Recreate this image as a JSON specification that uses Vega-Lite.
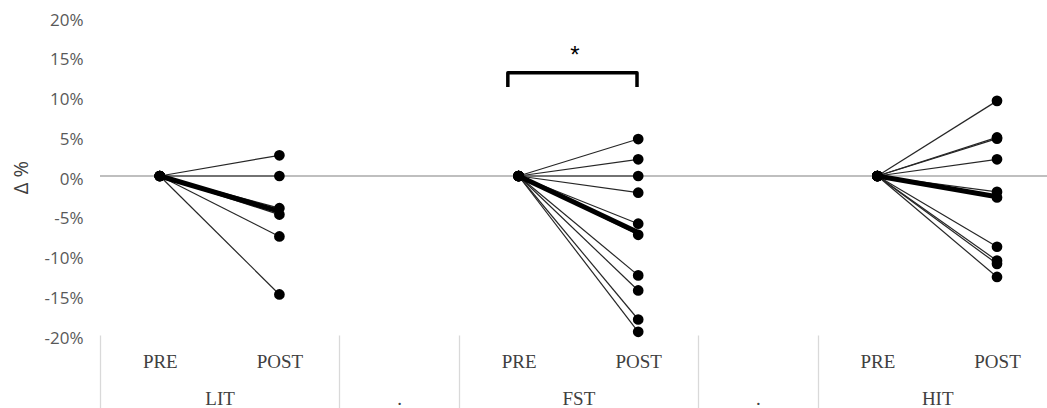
{
  "$schema": "https://vega.github.io/schema/vega-lite/v6.json",
  "width": 947,
  "height": 318,
  "autosize": {"type": "none"},
  "padding": {"left": 100, "top": 17, "right": 0, "bottom": 73},
  "background": "white",
  "config": {"view": {"stroke": null}, "font": "Open Sans"},
  "datasets": {
    "subjects": [
      {"g": "LIT", "s": "L1", "kind": "ind", "PRE": 0, "POST": 2.6},
      {"g": "LIT", "s": "L2", "kind": "ind", "PRE": 0, "POST": 0},
      {"g": "LIT", "s": "L3", "kind": "ind", "PRE": 0, "POST": -4.05},
      {"g": "LIT", "s": "L4", "kind": "ind", "PRE": 0, "POST": -4.85},
      {"g": "LIT", "s": "L5", "kind": "ind", "PRE": 0, "POST": -7.6},
      {"g": "LIT", "s": "L6", "kind": "ind", "PRE": 0, "POST": -14.9},
      {"g": "LIT", "s": "Lm", "kind": "mean", "PRE": 0, "POST": -4.45},
      {"g": "FST", "s": "F1", "kind": "ind", "PRE": 0, "POST": 4.65},
      {"g": "FST", "s": "F2", "kind": "ind", "PRE": 0, "POST": 2.1},
      {"g": "FST", "s": "F3", "kind": "ind", "PRE": 0, "POST": 0},
      {"g": "FST", "s": "F4", "kind": "ind", "PRE": 0, "POST": -2.1},
      {"g": "FST", "s": "F5", "kind": "ind", "PRE": 0, "POST": -6.0},
      {"g": "FST", "s": "F6", "kind": "ind", "PRE": 0, "POST": -7.4},
      {"g": "FST", "s": "F7", "kind": "ind", "PRE": 0, "POST": -12.5},
      {"g": "FST", "s": "F8", "kind": "ind", "PRE": 0, "POST": -14.4},
      {"g": "FST", "s": "F9", "kind": "ind", "PRE": 0, "POST": -18.05},
      {"g": "FST", "s": "F10", "kind": "ind", "PRE": 0, "POST": -19.6},
      {"g": "FST", "s": "Fm", "kind": "mean", "PRE": 0, "POST": -7.1},
      {"g": "HIT", "s": "H1", "kind": "ind", "PRE": 0, "POST": 9.45},
      {"g": "HIT", "s": "H2", "kind": "ind", "PRE": 0, "POST": 4.7},
      {"g": "HIT", "s": "H3", "kind": "ind", "PRE": 0, "POST": 4.85},
      {"g": "HIT", "s": "H4", "kind": "ind", "PRE": 0, "POST": 2.1},
      {"g": "HIT", "s": "H5", "kind": "ind", "PRE": 0, "POST": -2.0},
      {"g": "HIT", "s": "H6", "kind": "ind", "PRE": 0, "POST": -2.7},
      {"g": "HIT", "s": "H7", "kind": "ind", "PRE": 0, "POST": -8.9},
      {"g": "HIT", "s": "H8", "kind": "ind", "PRE": 0, "POST": -10.65},
      {"g": "HIT", "s": "H9", "kind": "ind", "PRE": 0, "POST": -11.05},
      {"g": "HIT", "s": "H10", "kind": "ind", "PRE": 0, "POST": -12.7},
      {"g": "HIT", "s": "Hm", "kind": "mean", "PRE": 0, "POST": -2.6}
    ],
    "bracket": [
      {"o": 1, "bx": 2.91, "by": 11.2},
      {"o": 2, "bx": 2.91, "by": 13.0},
      {"o": 3, "bx": 3.99, "by": 13.0},
      {"o": 4, "bx": 3.99, "by": 11.2}
    ],
    "sig": [
      {"sx": 3.47, "sy": 15.6, "label": "*"}
    ]
  },
  "data": {"name": "subjects"},
  "transform": [
    {"fold": ["PRE", "POST"], "as": ["t", "v"]},
    {"calculate": "(datum.g=='LIT'?0:datum.g=='FST'?3:6)+(datum.t=='POST'?1:0)", "as": "slot"}
  ],
  "resolve": {"axis": {"x": "independent"}},
  "layer": [
    {
      "mark": {"type": "rule", "color": "#bfbfbf", "strokeWidth": 1.5},
      "encoding": {
        "y": {
          "datum": 0,
          "type": "quantitative",
          "scale": {"domain": [-20, 20], "nice": false, "zero": false},
          "axis": {
            "values": [-20, -15, -10, -5, 0, 5, 10, 15, 20],
            "tickCount": 20,
            "labelExpr": "datum.value + '%'",
            "labelOverlap": false,
            "labelFlush": false,
            "title": "Δ %",
            "grid": false,
            "domain": false,
            "ticks": false,
            "labelPadding": 17,
            "labelOffset": 3,
            "labelFont": "Open Sans",
            "labelFontSize": 17,
            "labelColor": "#595959",
            "titleFont": "Open Sans",
            "titleFontSize": 20,
            "titleFontWeight": "normal",
            "titleColor": "#404040",
            "titleX": -79,
            "titleY": 160,
            "titleAngle": -90,
            "titleAlign": "center",
            "titleBaseline": "middle"
          }
        }
      }
    },
    {
      "transform": [{"filter": "datum.kind=='ind'"}],
      "mark": {"type": "line", "color": "#262626", "strokeWidth": 1.2},
      "encoding": {
        "x": {
          "field": "slot",
          "type": "quantitative",
          "scale": {"domain": [-0.5, 7.418], "nice": false, "zero": false},
          "axis": {
            "orient": "bottom",
            "values": [0, 1, 3, 4, 6, 7],
            "tickCount": 30,
            "labelExpr": "(datum.value==0||datum.value==3||datum.value==6)?'PRE':'POST'",
            "ticks": false,
            "domain": false,
            "grid": false,
            "title": null,
            "labelFlush": false,
            "labelOverlap": false,
            "labelFont": "Liberation Serif",
            "labelFontSize": 19,
            "labelColor": "#404040",
            "labelPadding": 17
          }
        },
        "y": {"field": "v", "type": "quantitative", "scale": {"domain": [-20, 20], "nice": false, "zero": false}},
        "detail": {"field": "s"}
      }
    },
    {
      "transform": [{"filter": "datum.kind=='mean'"}],
      "mark": {"type": "line", "color": "#000000", "strokeWidth": 5},
      "encoding": {
        "x": {
          "field": "slot",
          "type": "quantitative",
          "scale": {"domain": [-0.5, 7.418], "nice": false, "zero": false},
          "axis": {
            "orient": "bottom",
            "values": [-0.5, 0.5, 1.5, 2, 2.5, 3.5, 4.5, 5, 5.5, 6.5],
            "tickCount": 30,
            "labelExpr": "datum.value==0.5?'LIT':datum.value==3.5?'FST':datum.value==6.5?'HIT':(datum.value==2||datum.value==5)?'.':''",
            "ticks": true,
            "tickSize": 73,
            "tickWidth": 1.3,
            "tickColor": {
              "condition": {"test": "datum.value==-0.5||datum.value==1.5||datum.value==2.5||datum.value==4.5||datum.value==5.5", "value": "#d9d9d9"},
              "value": "transparent"
            },
            "domain": false,
            "grid": false,
            "title": null,
            "labelFlush": false,
            "labelOverlap": false,
            "labelFont": "Liberation Serif",
            "labelFontSize": 19,
            "labelColor": "#404040",
            "labelPadding": -19
          }
        },
        "y": {"field": "v", "type": "quantitative", "scale": {"domain": [-20, 20], "nice": false, "zero": false}},
        "detail": {"field": "s"}
      }
    },
    {
      "transform": [{"filter": "datum.kind=='ind'"}],
      "mark": {"type": "circle", "color": "#000000", "opacity": 1, "size": 115},
      "encoding": {
        "x": {"field": "slot", "type": "quantitative", "scale": {"domain": [-0.5, 7.418], "nice": false, "zero": false}, "axis": null},
        "y": {"field": "v", "type": "quantitative", "scale": {"domain": [-20, 20], "nice": false, "zero": false}}
      }
    },
    {
      "data": {"name": "bracket"},
      "mark": {"type": "line", "color": "#000000", "strokeWidth": 3.5, "strokeJoin": "round"},
      "encoding": {
        "x": {"field": "bx", "type": "quantitative", "scale": {"domain": [-0.5, 7.418], "nice": false, "zero": false}, "axis": null},
        "y": {"field": "by", "type": "quantitative", "scale": {"domain": [-20, 20], "nice": false, "zero": false}},
        "order": {"field": "o"}
      }
    },
    {
      "data": {"name": "sig"},
      "mark": {"type": "text", "font": "Liberation Sans", "fontSize": 24, "color": "#000000", "baseline": "middle", "align": "center", "dy": 4},
      "encoding": {
        "x": {"field": "sx", "type": "quantitative", "scale": {"domain": [-0.5, 7.418], "nice": false, "zero": false}, "axis": null},
        "y": {"field": "sy", "type": "quantitative", "scale": {"domain": [-20, 20], "nice": false, "zero": false}},
        "text": {"field": "label"}
      }
    }
  ]
}
